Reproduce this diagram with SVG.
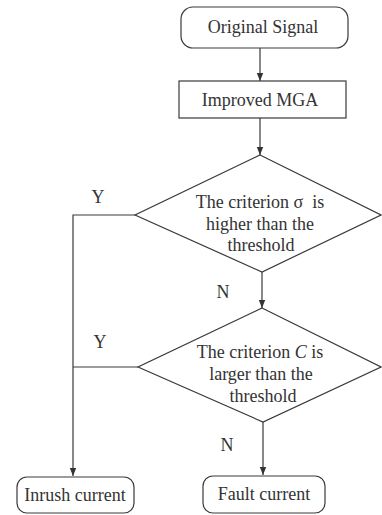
<svg xmlns="http://www.w3.org/2000/svg" width="382" height="515" viewBox="0 0 382 515">
<style>
.box{fill:none;stroke:#3a3a3a;stroke-width:1.2}
.ln{fill:none;stroke:#3a3a3a;stroke-width:1.2}
text{font-family:"Liberation Serif","Times New Roman",serif;font-size:18px;fill:#333;text-anchor:middle}
</style>
<defs>
<marker id="ah" markerWidth="8" markerHeight="12" refX="10" refY="4" viewBox="0 0 10 8" orient="auto" markerUnits="userSpaceOnUse">
<path d="M0,0 L10,4 L0,8 Z" fill="#333"/>
</marker>
</defs>
<rect width="382" height="515" fill="#fff"/>
<g id="connectors">
<line class="ln" x1="260" y1="48" x2="260" y2="81" marker-end="url(#ah)"/>
<line class="ln" x1="260" y1="118" x2="260" y2="155" marker-end="url(#ah)"/>
<line class="ln" x1="262" y1="272" x2="262" y2="308" marker-end="url(#ah)"/>
<line class="ln" x1="263" y1="422" x2="263" y2="475" marker-end="url(#ah)"/>
<polyline class="ln" points="135,215 73,215 73,476" marker-end="url(#ah)"/>
<line class="ln" x1="73" y1="367" x2="138" y2="367"/>
<text x="98" y="203">Y</text>
<text x="223" y="298">N</text>
<text x="100" y="348">Y</text>
<text x="227" y="451">N</text>
</g>
<g id="original">
<rect class="box" x="181" y="7" width="167" height="41" rx="12"/>
<text x="263" y="33">Original Signal</text>
</g>
<g id="mga">
<rect class="box" x="179" y="81" width="167" height="37"/>
<text x="260" y="106">Improved MGA</text>
</g>
<g id="d1">
<polygon class="box" points="260,155 381,215 262,272 135,215"/>
<text x="260" y="208">The criterion σ&#160; is</text>
<text x="260" y="230">higher than the</text>
<text x="261" y="251">threshold</text>
</g>
<g id="d2">
<polygon class="box" points="262,308 381,367 263,422 138,367"/>
<text x="260" y="358">The criterion <tspan font-style="italic">C</tspan> is</text>
<text x="261" y="380">larger than the</text>
<text x="263" y="402">threshold</text>
</g>
<g id="inrush">
<rect class="box" x="17" y="477" width="117" height="36" rx="10"/>
<text x="75" y="501">Inrush current</text>
</g>
<g id="fault">
<rect class="box" x="203" y="476" width="122" height="37" rx="10"/>
<text x="264" y="500">Fault current</text>
</g>
</svg>
